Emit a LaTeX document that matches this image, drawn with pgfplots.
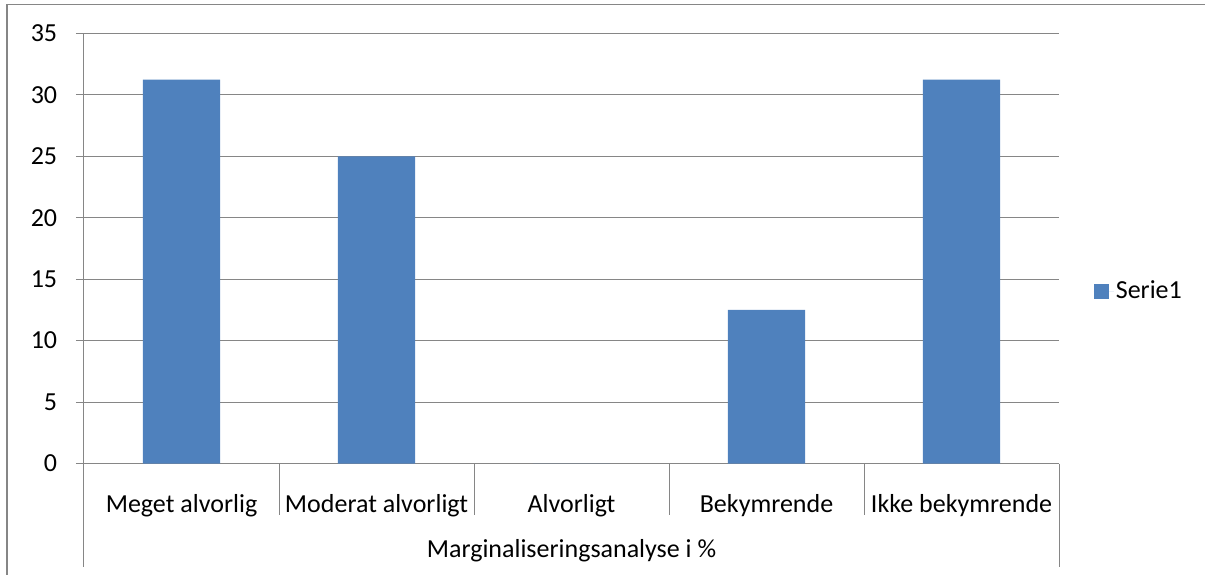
\documentclass[border=0pt]{standalone}
\usepackage{pgfplots}
\pgfplotsset{compat=1.18}
\usepackage{fontspec}
\setmainfont{Carlito}
\definecolor{barblue}{RGB}{79,129,189}
\definecolor{gridgray}{RGB}{134,134,134}
\newcommand{\fs}{\fontsize{26}{30}\selectfont}
\begin{document}
\fs
\begin{tikzpicture}
\path[use as bounding box] (0pt,0pt) rectangle (1205pt,-575pt);
\draw[gridgray,line width=1.2pt] (7pt,-580pt) -- (7pt,-4.5pt) -- (1210pt,-4.5pt);
\begin{axis}[
  at={(84pt,-463.5pt)}, anchor=south west,
  scale only axis, width=975pt, height=430pt,
  xmin=-0.5, xmax=4.5, ymin=0, ymax=35,
  ytick={0,5,...,35},
  xtick={0,1,2,3,4},
  xticklabels={Meget alvorlig,Moderat alvorligt,Alvorligt,Bekymrende,Ikke bekymrende},
  axis line style={gridgray,line width=1pt},
  axis x line*=bottom, axis y line*=left,
  ymajorgrids, major grid style={gridgray,line width=1pt},
  y axis line style={-}, x axis line style={-},
  ytick style={gridgray,line width=1pt},
  ytick align=outside, major tick length=8pt,
  xtick style={draw=none},
  yticklabel style={font=\fs, xshift=-10pt},
  xticklabel style={font=\fs, anchor=center, yshift=-34.5pt},
  /pgf/number format/assume math mode=true,
  ybar, bar width=0.395,
  clip=false,
  legend style={at={(1.0355,0.399)}, anchor=west, draw=none, fill=none,
    font=\fs, inner sep=0pt},
  legend image code/.code={\fill[barblue] (0pt,-7.5pt) rectangle (15pt,7.5pt);\path (0pt,0pt) -- (20pt,0pt);},
]
\addplot[fill=barblue, draw=none] coordinates {(0,31.25) (1,25) (2,0) (3,12.5) (4,31.25)};
\addlegendentry{Serie1}
\foreach \x in {0.5,1.5,2.5,3.5} {\edef\tmp{\noexpand\draw[gridgray,line width=1pt] (axis cs:\x,0) -- ++(0pt,-51pt);}\tmp}
\draw[gridgray,line width=1pt] (axis cs:-0.5,0) -- ++(0pt,-103.5pt);
\draw[gridgray,line width=1pt] (axis cs:4.5,0) -- ++(0pt,-103.5pt);
\node[font=\fs] at (axis cs:2,0) [yshift=-87.5pt] {Marginaliseringsanalyse i \%};
\end{axis}
\end{tikzpicture}
\end{document}
